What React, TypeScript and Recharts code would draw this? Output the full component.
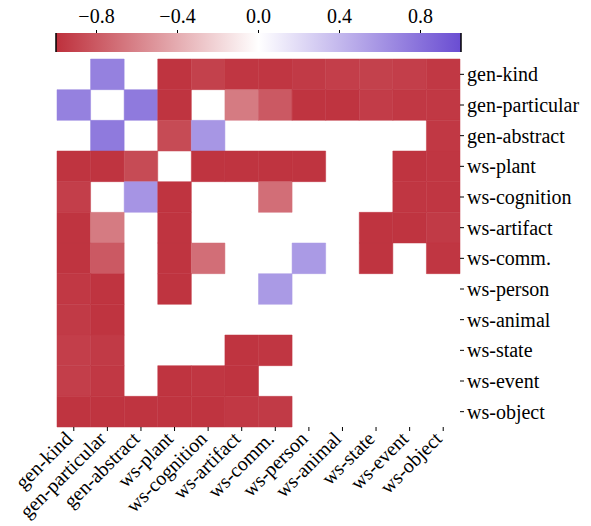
import React from 'react';
import {
  ScatterChart,
  Scatter,
  ComposedChart,
  Line,
  XAxis,
  YAxis,
  ReferenceArea,
  ReferenceLine,
} from 'recharts';

const labels = [
  'gen-kind',
  'gen-particular',
  'gen-abstract',
  'ws-plant',
  'ws-cognition',
  'ws-artifact',
  'ws-comm.',
  'ws-person',
  'ws-animal',
  'ws-state',
  'ws-event',
  'ws-object',
];

// one row per y label, columns follow the x labels, null = no cell
const genKind = [null, 0.71, null, -0.98, -0.92, -0.97, -0.97, -0.95, -0.93, -0.92, -0.93, -0.96];
const genParticular = [0.71, null, 0.75, -0.98, null, -0.64, -0.8, -0.98, -0.98, -0.94, -0.96, -0.96];
const genAbstract = [null, 0.75, null, -0.87, 0.59, null, null, null, null, null, null, -0.96];
const wsPlant = [-0.98, -0.98, -0.87, null, -0.98, -0.98, -0.98, -0.98, null, null, -0.98, -0.97];
const wsCognition = [-0.93, null, 0.6, -0.98, null, null, -0.7, null, null, null, -0.97, -0.97];
const wsArtifact = [-0.98, -0.64, null, -0.98, null, null, null, null, null, -0.98, -0.98, -0.95];
const wsComm = [-0.98, -0.8, null, -0.98, -0.7, null, null, 0.57, null, -0.98, null, -0.97];
const wsPerson = [-0.96, -0.98, null, -0.98, null, null, 0.57, null, null, null, null, null];
const wsAnimal = [-0.95, -0.98, null, null, null, null, null, null, null, null, null, null];
const wsState = [-0.93, -0.95, null, null, null, -0.98, -0.97, null, null, null, null, null];
const wsEvent = [-0.93, -0.96, null, -0.98, -0.97, -0.98, null, null, null, null, null, null];
const wsObject = [-0.98, -0.98, -0.98, -0.98, -0.98, -0.96, -0.95, null, null, null, null, null];

const rows = [
  genKind,
  genParticular,
  genAbstract,
  wsPlant,
  wsCognition,
  wsArtifact,
  wsComm,
  wsPerson,
  wsAnimal,
  wsState,
  wsEvent,
  wsObject,
];

const colorbarTicks = [-0.8, -0.4, 0, 0.4, 0.8];
const colorbarRange = [
  { v: -1, y: 0 },
  { v: 1, y: 1 },
];

const RED = [190, 48, 60];
const BLUE = [106, 77, 210];
const FONT = '"Liberation Serif", "Times New Roman", serif';

function colorFor(v: number) {
  const end = v < 0 ? RED : BLUE;
  const t = Math.abs(v);
  const c = end.map((e) => Math.round(255 + (e - 255) * t));
  return `rgb(${c[0]},${c[1]},${c[2]})`;
}

const cells: { x: number; y: number; v: number }[] = [];
rows.forEach((row, r) => {
  row.forEach((v, c) => {
    if (v !== null) cells.push({ x: c, y: r, v });
  });
});

const idx = labels.map((_, i) => i);

const XTick = (props: any) => {
  const { x, y, payload } = props;
  const tx = x - 5;
  const ty = y + 2;
  return (
    <text
      x={tx}
      y={ty}
      dy="0.35em"
      textAnchor="end"
      transform={`rotate(-45 ${tx} ${ty})`}
      fontFamily={FONT}
      fontSize={20}
      fill="#000"
    >
      {labels[payload.value]}
    </text>
  );
};

function fmt(v: number) {
  const s = Math.abs(v).toFixed(1);
  return v < 0 ? `\u2212${s}` : s;
}

export default function App() {
  return (
    <div style={{ position: 'absolute', left: 0, top: 0, width: 591, height: 526, background: '#fff' }}>
      <div style={{ position: 'absolute', left: 0, top: 0 }}>
        <ComposedChart
          width={591}
          height={60}
          data={colorbarRange}
          margin={{ top: 0, left: 56, right: 130, bottom: 8 }}
        >
          <defs>
            <linearGradient id="cbar" x1="0" y1="0" x2="1" y2="0">
              <stop offset="0%" stopColor={colorFor(-1)} />
              <stop offset="50%" stopColor="#ffffff" />
              <stop offset="100%" stopColor={colorFor(1)} />
            </linearGradient>
          </defs>
          <XAxis
            dataKey="v"
            type="number"
            orientation="top"
            domain={[-1, 1]}
            ticks={colorbarTicks}
            tickFormatter={fmt}
            height={33}
            axisLine={false}
            tickSize={3}
            tickMargin={7}
            tickLine={{ stroke: '#000' }}
            tick={{ fill: '#000', fontSize: 20, fontFamily: FONT }}
          />
          <YAxis hide dataKey="y" type="number" domain={[0, 1]} />
          <Line dataKey="y" stroke="none" dot={false} activeDot={false} isAnimationActive={false} />
          <ReferenceArea x1={-1} x2={1} y1={0} y2={1} fill="url(#cbar)" fillOpacity={1} stroke="none" />
          <ReferenceLine x={-1} stroke="#000" strokeWidth={1.5} />
          <ReferenceLine x={1} stroke="#000" strokeWidth={1.5} />
        </ComposedChart>
      </div>
      <div style={{ position: 'absolute', left: 0, top: 0 }}>
        <ScatterChart
          width={591}
          height={526}
          margin={{ top: 59, left: 57, right: 11, bottom: 9 }}
        >
          <XAxis
            dataKey="x"
            type="number"
            domain={[-0.5, 11.5]}
            ticks={idx}
            interval={0}
            height={90}
            axisLine={false}
            tickSize={4}
            tickMargin={2}
            tickLine={{ stroke: '#000' }}
            tick={<XTick />}
          />
          <YAxis
            dataKey="y"
            type="number"
            orientation="right"
            domain={[-0.5, 11.5]}
            reversed
            ticks={idx}
            interval={0}
            width={120}
            axisLine={false}
            tickSize={4}
            tickMargin={3}
            tickLine={{ stroke: '#000' }}
            tickFormatter={(i: number) => labels[i]}
            tick={{ fill: '#000', fontSize: 20, fontFamily: FONT, textAnchor: 'start' }}
          />
          {cells.map((d) => (
            <ReferenceArea
              key={`c-${d.x}-${d.y}`}
              x1={d.x - 0.5}
              x2={d.x + 0.5}
              y1={d.y - 0.5}
              y2={d.y + 0.5}
              fill={colorFor(d.v)}
              fillOpacity={1}
              stroke={colorFor(d.v)}
              strokeWidth={0.5}
            />
          ))}
          <Scatter data={cells} isAnimationActive={false} shape={() => <g />} />
        </ScatterChart>
      </div>
    </div>
  );
}
